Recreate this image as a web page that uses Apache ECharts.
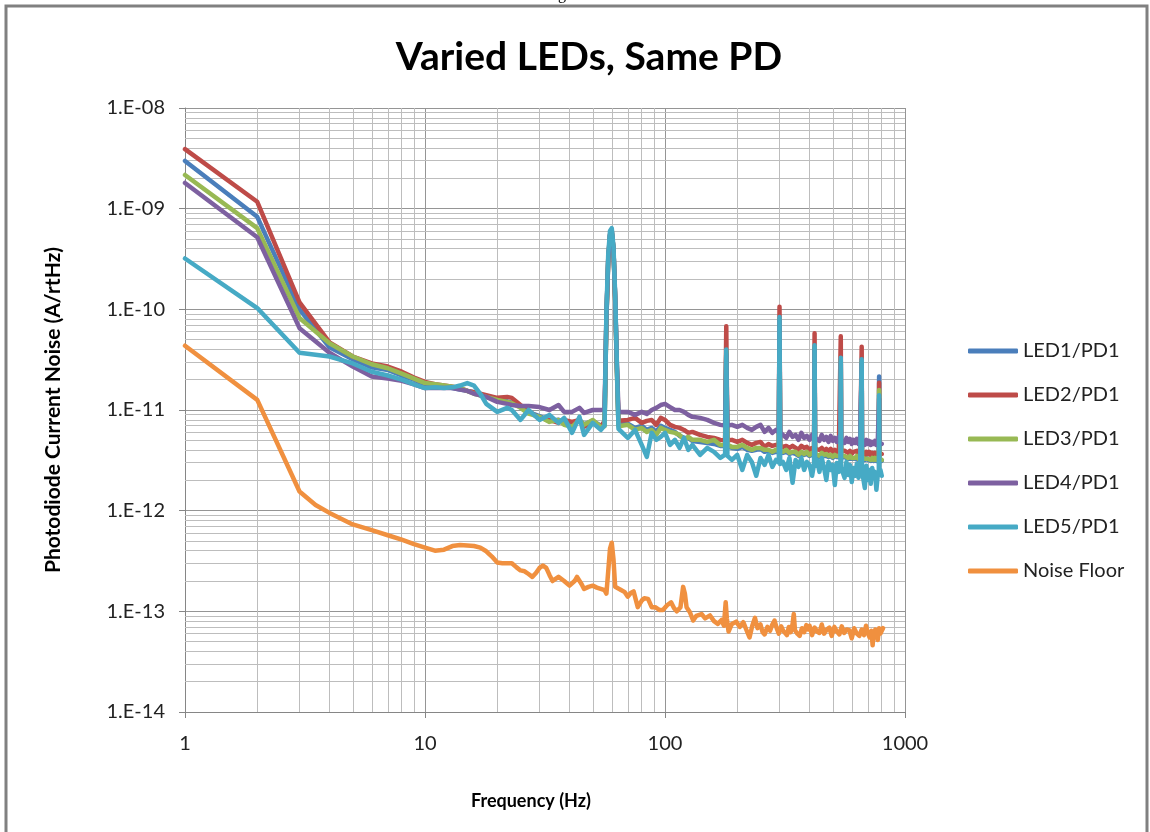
<!DOCTYPE html>
<html>
<head>
<meta charset="utf-8">
<script src="https://cdn.jsdelivr.net/npm/echarts@6/dist/echarts.min.js"></script>
<style>
  html, body { margin: 0; padding: 0; background: #fff; }
  #chart { width: 1150px; height: 832px; }
</style>
</head>
<body>
<div id="chart"></div>
<script>
// spectra, values in pA/rtHz (1 pA = 1.E-12 A)
var ledFreq = [
  1, 2, 3, 4, 5, 6, 7, 8, 9, 10, 11, 12, 13, 14, 15, 16, 17, 18,
  20, 22, 23, 25, 27, 30, 33, 36, 38, 41, 44, 46, 50, 54,
  56, 57, 58, 59, 60, 61, 62, 63, 64, 65,
  70, 75, 80, 84, 88, 92, 96, 100,
  105, 110, 115, 120, 125, 130, 140, 150, 160, 170,
  178, 180, 182,
  190, 200, 210, 220, 230, 240, 250, 260, 270, 280, 290,
  298, 300, 302,
  310, 320, 330, 340, 350, 360, 370, 380, 390, 400, 410,
  418, 420, 422,
  430, 440, 450, 460, 470, 480, 490, 500, 510, 520, 530,
  538, 540, 542,
  550, 560, 570, 580, 590, 600, 610, 620, 630, 640, 650,
  658, 660, 662,
  670, 680, 690, 700, 710, 720, 730, 740, 750, 760, 770,
  778, 780, 782,
  790, 800
];

var led1 = [
  2980, 830, 100, 42, 32, 26.5, 25, 22, 20, 18, 17.5, 17, 16.5, 16, 15.5, 15, 14, 13.5,
  12.8, 12.2, 11.8, 10.8, 9.5, 8.7, 7.8, 8.0, 7.4, 7.0, 8.0, 7.2, 7.8, 7.0,
  7.3, 80, 300, 540, 590, 390, 125, 26, 7.3, 7.1,
  7.3, 6.64, 6.97, 6.34, 6.64, 6.06, 6.97, 6.64,
  6.34, 6.06, 5.53, 5.28, 5.28, 4.93, 4.82, 4.71, 4.6, 4.4,
  4.4, 38, 4.3,
  4.2, 4.11, 4.3, 4.02, 3.93, 4.02, 4.11, 3.84, 3.93, 3.75, 3.84,
  3.8, 80, 3.8,
  3.75, 3.84, 3.66, 3.75, 3.66, 3.5, 3.75, 3.58, 3.66, 3.5, 3.58,
  3.6, 42, 3.6,
  3.58, 3.42, 3.58, 3.5, 3.5, 3.42, 3.5, 3.34, 3.5, 3.42, 3.5,
  3.4, 31, 3.4,
  3.34, 3.42, 3.42, 3.27, 3.42, 3.27, 3.34, 3.27, 3.42, 3.19, 3.34,
  3.3, 30, 3.3,
  3.27, 3.19, 3.34, 3.19, 3.27, 3.12, 3.27, 3.12, 3.27, 3.12, 3.19,
  3.2, 21.5, 3.2,
  3.19, 3.12
];

var led2 = [
  3900, 1170, 117, 47, 34, 29, 27, 24, 21, 19, 18, 17.5, 17, 16.5, 15.5, 15, 14.5, 14,
  13.2, 13.5, 13.2, 11.2, 9.7, 8.35, 7.97, 7.45, 7.97, 7.62, 7.97, 6.8, 7.62, 6.8,
  7.8, 85, 320, 560, 600, 400, 130, 28, 7.8, 7.6,
  7.97, 8.35, 7.45, 7.8, 7.97, 7.12, 8.35, 7.97,
  7.12, 6.8, 6.64, 6.34, 5.93, 6.06, 5.66, 5.41, 5.28, 5.05,
  5.0, 68, 5.0,
  5.05, 4.82, 5.05, 4.71, 4.5, 4.71, 4.82, 4.3, 4.6, 4.4, 4.5,
  4.4, 106, 4.4,
  4.3, 4.4, 4.2, 4.4, 4.2, 4.02, 4.4, 4.2, 4.3, 4.02, 4.2,
  4.1, 58, 4.1,
  4.11, 4.02, 4.2, 3.93, 4.11, 3.93, 4.11, 3.84, 4.02, 3.84, 4.02,
  3.9, 54, 3.9,
  3.84, 3.93, 4.02, 3.75, 3.93, 3.66, 3.84, 3.75, 3.93, 3.66, 3.84,
  3.8, 42.6, 3.8,
  3.75, 3.58, 3.84, 3.66, 3.84, 3.58, 3.75, 3.58, 3.75, 3.5, 3.66,
  3.6, 18.6, 3.6,
  3.58, 3.66
];

var led3 = [
  2160, 640, 82, 46, 34, 28.5, 26, 23, 20.5, 18.5, 18, 17.5, 17, 16.5, 15.5, 14.5, 14, 13.5,
  12.6, 12.05, 11.7, 10.5, 9.2, 8.55, 7.62, 7.97, 7.12, 6.8, 7.97, 7.12, 7.97, 6.8,
  6.9, 80, 300, 540, 590, 390, 125, 25, 6.9, 6.8,
  7.12, 6.34, 6.64, 6.06, 6.34, 5.66, 6.64, 6.34,
  6.06, 5.93, 5.66, 5.05, 5.41, 5.05, 5.05, 4.82, 5.05, 4.5,
  4.5, 38, 4.5,
  4.3, 4.3, 4.5, 4.2, 4.02, 4.2, 4.2, 4.02, 4.02, 3.84, 4.02,
  3.9, 80, 3.9,
  3.84, 4.02, 3.75, 3.84, 3.84, 3.58, 3.84, 3.66, 3.84, 3.58, 3.75,
  3.7, 42, 3.7,
  3.66, 3.5, 3.75, 3.58, 3.66, 3.5, 3.58, 3.42, 3.58, 3.5, 3.58,
  3.5, 31, 3.5,
  3.42, 3.5, 3.58, 3.34, 3.5, 3.34, 3.42, 3.34, 3.5, 3.27, 3.42,
  3.4, 30, 3.4,
  3.34, 3.27, 3.42, 3.27, 3.34, 3.19, 3.34, 3.19, 3.34, 3.19, 3.27,
  3.3, 15.8, 3.3,
  3.27, 3.19
];

var led4 = [
  1800, 520, 65, 37, 27, 21.5, 20.5, 19.5, 18, 16.5, 16.5, 16.5, 16.5, 16, 15.5, 14.5, 14, 13.5,
  12.05, 11.5, 11.2, 10.95, 10.95, 10.7, 10.0, 11.2, 9.58, 9.58, 10.5, 9.36, 10.0, 10.0,
  10.2, 85, 310, 550, 600, 400, 130, 30, 9.6, 9.4,
  9.58, 8.94, 9.58, 9.15, 10.0, 10.5, 11.2, 11.5,
  10.7, 10.0, 10.0, 9.58, 8.94, 8.55, 8.35, 7.97, 7.45, 7.12,
  7.0, 36, 7.0,
  7.12, 6.8, 7.12, 6.64, 6.34, 6.8, 7.12, 6.06, 6.64, 5.93, 6.34,
  6.0, 78, 6.0,
  5.66, 5.28, 6.06, 5.41, 5.66, 5.05, 5.93, 5.28, 5.53, 5.05, 5.66,
  5.3, 40, 5.3,
  5.41, 4.93, 5.66, 5.05, 5.41, 4.82, 5.53, 4.93, 5.28, 4.82, 5.41,
  5.0, 30, 5.0,
  5.05, 4.71, 5.28, 4.82, 5.16, 4.6, 5.05, 4.71, 5.16, 4.6, 4.93,
  4.8, 29, 4.8,
  4.82, 4.5, 5.05, 4.6, 4.93, 4.5, 4.82, 4.6, 4.93, 4.5, 4.82,
  4.7, 13, 4.7,
  4.71, 4.6
];

var led5 = [
  320, 103, 37, 34, 29, 24, 22, 20, 18, 16.5, 16.8, 16.5, 16.8, 17.5, 18.5, 17.5, 14.5, 11.5,
  9.58, 10.5, 10.0, 7.97, 10.0, 7.97, 8.94, 7.45, 8.35, 5.93, 8.55, 5.66, 7.45, 6.34,
  7.0, 95, 350, 600, 640, 420, 140, 30, 6.5, 6.3,
  5.28, 6.34, 4.5, 3.42, 5.93, 5.05, 5.41, 5.93,
  4.5, 5.05, 4.2, 5.28, 4.02, 4.5, 3.58, 4.2, 3.84, 3.34,
  3.6, 40, 3.5,
  3.19, 3.58, 2.54, 3.58, 3.05, 2.22, 3.34, 2.85, 3.58, 2.72, 3.19,
  3.0, 84, 2.9,
  3.05, 2.54, 3.34, 1.89, 3.19, 2.72, 3.34, 2.54, 3.05, 2.85, 2.22,
  2.9, 44, 2.8,
  3.19, 2.43, 3.34, 2.66, 2.02, 3.05, 2.54, 2.85, 1.8, 2.98, 2.43,
  2.8, 33, 2.7,
  2.79, 2.12, 3.05, 2.26, 2.85, 1.93, 2.66, 2.22, 2.92, 2.12, 2.66,
  2.6, 32, 2.5,
  2.43, 1.68, 2.79, 2.02, 2.54, 1.85, 2.66, 2.12, 2.43, 1.61, 2.26,
  2.4, 14, 2.3,
  2.54, 2.22
];

// noise floor: [Hz, pA/rtHz]
var noiseFloor = [
  [1, 43.5], [2, 12.6], [3, 1.55], [3.5, 1.14], [4, 0.95], [5, 0.73], [6, 0.64], [7, 0.57],
  [8, 0.515], [9, 0.465], [10, 0.43], [11, 0.4], [12, 0.41], [13, 0.445], [14, 0.455],
  [15, 0.45], [16, 0.446], [17, 0.43], [18, 0.395], [19, 0.35], [20, 0.305], [21, 0.3],
  [22, 0.3], [23, 0.3], [24, 0.275], [25, 0.255], [26, 0.25], [27, 0.235], [28, 0.22],
  [29, 0.24], [30, 0.27], [31, 0.285], [32, 0.27], [33, 0.23], [34, 0.2], [35, 0.21],
  [36, 0.22], [38, 0.2], [40, 0.18], [42, 0.2], [43, 0.22], [45, 0.185], [46, 0.167],
  [48, 0.175], [50, 0.18], [52, 0.172], [54, 0.167], [56, 0.162], [57, 0.15], [58, 0.25],
  [59, 0.42], [60, 0.48], [61, 0.33], [62, 0.175], [63, 0.17], [65, 0.165], [68, 0.155],
  [70, 0.14], [72, 0.152], [74, 0.158], [77, 0.11], [80, 0.128], [82, 0.135], [85, 0.133],
  [88, 0.11], [91, 0.11], [95, 0.103], [98, 0.103], [102, 0.115], [106, 0.123], [109, 0.108],
  [112, 0.1], [116, 0.11], [118, 0.15], [119, 0.175], [121, 0.15], [123, 0.11], [127, 0.098],
  [131, 0.081], [135, 0.09], [142, 0.094], [147, 0.085], [154, 0.091], [160, 0.08],
  [166, 0.075], [172, 0.082], [176, 0.072], [179, 0.123], [181, 0.085], [184, 0.063],
  [190, 0.075], [198, 0.079], [205, 0.07], [212, 0.078], [218, 0.066], [225, 0.055],
  [231, 0.072], [237, 0.086], [243, 0.068], [250, 0.074], [255, 0.062], [260, 0.059],
  [267, 0.07], [274, 0.064], [280, 0.074], [286, 0.081], [292, 0.068], [298, 0.06],
  [305, 0.071], [311, 0.064], [316, 0.065], [322, 0.058], [328, 0.07], [334, 0.062],
  [340, 0.075], [344, 0.094], [348, 0.065], [356, 0.06], [364, 0.057], [372, 0.068],
  [380, 0.062], [388, 0.073], [395, 0.066], [400, 0.072], [410, 0.058], [420, 0.069],
  [430, 0.063], [440, 0.061], [450, 0.074], [460, 0.06], [472, 0.066], [484, 0.069],
  [495, 0.057], [508, 0.07], [520, 0.063], [533, 0.059], [545, 0.071], [558, 0.061],
  [572, 0.066], [586, 0.065], [600, 0.054], [614, 0.068], [630, 0.06], [645, 0.057],
  [660, 0.066], [675, 0.058], [688, 0.072], [700, 0.061], [712, 0.055], [725, 0.064],
  [733, 0.046], [740, 0.06], [752, 0.066], [762, 0.063], [770, 0.052], [780, 0.068],
  [790, 0.06], [800, 0.064], [810, 0.068]
];

var seriesNames = ['LED1/PD1', 'LED2/PD1', 'LED3/PD1', 'LED4/PD1', 'LED5/PD1', 'Noise Floor'];
var seriesColors = ['#4a7ebb', '#be4b48', '#98b954', '#7d60a0', '#46aac5', '#f0903f'];

// log grid: decades and the 2..9 minor lines inside each
var minorMult = [2, 3, 4, 5, 6, 7, 8, 9];
var xDecades = [1, 10, 100];
var yDecades = [0.01, 0.1, 1, 10, 100, 1000];

const FONT = 'Lato, "Noto Sans", sans-serif';
const LINE_W = 4.5;

const toPairs = vals => vals.map((v, i) => [ledFreq[i], v]);

// pA value -> 1.E-xx label
const yLabel = v => {
  let e = Math.round(Math.log10(v)) - 12;
  let a = Math.abs(e);
  return '1.E' + (e < 0 ? '-' : '+') + (a < 10 ? '0' + a : a);
};

let minorLines = [];
xDecades.forEach(d => minorMult.forEach(m => minorLines.push({ xAxis: m * d })));
yDecades.forEach(d => minorMult.forEach(m => minorLines.push({ yAxis: m * d })));

const chart = echarts.init(document.getElementById('chart'), null, { renderer: 'canvas' });

let series = [
  {
    name: 'grid-minor',
    type: 'line',
    data: [],
    silent: true,
    markLine: {
      silent: true,
      z: 1,
      symbol: ['none', 'none'],
      label: { show: false },
      lineStyle: { color: '#bdbdbd', width: 1, type: 'solid' },
      data: minorLines
    }
  }
];

[led1, led2, led3, led4, led5].forEach((vals, i) => {
  series.push({
    name: seriesNames[i],
    type: 'line',
    data: toPairs(vals),
    symbol: 'none',
    lineStyle: { width: LINE_W, color: seriesColors[i], cap: 'round', join: 'round' },
    itemStyle: { color: seriesColors[i] },
    z: 3
  });
});

series.push({
  name: seriesNames[5],
  type: 'line',
  data: noiseFloor,
  symbol: 'none',
  lineStyle: { width: LINE_W, color: seriesColors[5], cap: 'round', join: 'round' },
  itemStyle: { color: seriesColors[5] },
  z: 3
});

let option = {
  backgroundColor: '#fff',
  animation: false,
  title: {
    text: 'Varied LEDs, Same PD',
    left: 584,
    top: 33,
    textAlign: 'center',
    textStyle: { fontFamily: FONT, fontSize: 39, fontWeight: 'bold', color: '#000' }
  },
  legend: {
    data: seriesNames,
    orient: 'vertical',
    left: 963,
    top: 336,
    icon: 'roundRect',
    itemWidth: 50,
    itemHeight: 5,
    itemGap: 24,
    textStyle: { fontFamily: FONT, fontSize: 20, color: '#222', lineHeight: 20 }
  },
  grid: {
    left: 185,
    top: 108,
    width: 720,
    height: 604
  },
  xAxis: {
    type: 'log',
    logBase: 10,
    min: 1,
    max: 1000,
    splitNumber: 3,
    name: 'Frequency (Hz)',
    nameLocation: 'middle',
    nameGap: 80,
    nameTextStyle: { fontFamily: FONT, fontSize: 18, fontWeight: 'bold', color: '#000', padding: [0, 28, 0, 0] },
    axisLine: { lineStyle: { color: '#868686', width: 1 } },
    axisTick: { show: true, length: 6, lineStyle: { color: '#868686' } },
    axisLabel: { fontFamily: FONT, fontSize: 20, color: '#222', margin: 22, formatter: v => String(v) },
    splitLine: { show: true, lineStyle: { color: '#959595', width: 1 } }
  },
  yAxis: {
    type: 'log',
    logBase: 10,
    min: 0.01,
    max: 10000,
    splitNumber: 6,
    name: 'Photodiode Current Noise (A/rtHz)',
    nameLocation: 'middle',
    nameGap: 121,
    nameTextStyle: { fontFamily: FONT, fontSize: 21, fontWeight: 'bold', color: '#000' },
    axisLine: { show: true, lineStyle: { color: '#868686', width: 1 } },
    axisTick: { show: true, length: 6, lineStyle: { color: '#868686' } },
    axisLabel: { fontFamily: FONT, fontSize: 20, color: '#222', margin: 20, formatter: yLabel },
    splitLine: { show: true, lineStyle: { color: '#959595', width: 1 } }
  },
  graphic: [
    {
      type: 'rect',
      silent: true,
      shape: { x: 6, y: 6, width: 1141, height: 840 },
      style: { fill: 'none', stroke: '#808080', lineWidth: 3 }
    },
    {
      type: 'text',
      silent: true,
      left: 558,
      top: -13,
      style: { text: 'g', font: '16px "Liberation Serif", serif', fill: '#000' }
    }
  ],
  series: series
};

option && chart.setOption(option);
</script>
</body>
</html>
